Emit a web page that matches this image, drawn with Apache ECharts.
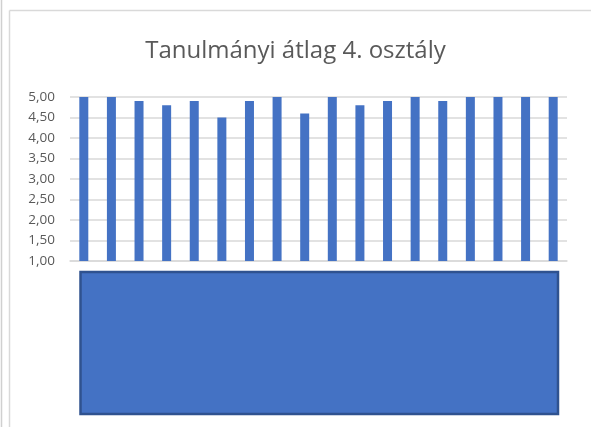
<!DOCTYPE html>
<html>
<head>
<meta charset="utf-8">
<script src="https://cdn.jsdelivr.net/npm/echarts@6/dist/echarts.min.js"></script>
<style>
  html, body { margin: 0; padding: 0; background: #fff; }
  #container_atlag { width: 591px; height: 427px; }
</style>
</head>
<body>
<div id="container_atlag"></div>
<script>
// adatok (a tanulók nevei a képen ki vannak takarva)
var categories = ['1','2','3','4','5','6','7','8','9','10','11','12','13','14','15','16','17','18'];
var atlagok = [5.0, 5.0, 4.9, 4.8, 4.9, 4.5, 4.9, 5.0, 4.6, 5.0, 4.8, 4.9, 5.0, 4.9, 5.0, 5.0, 5.0, 5.0];
var yTicks = [1, 5, 0.5]; // min, max, interval

var myChart = echarts.init(document.getElementById('container_atlag'));
var option = {
    animation: false,
    title: {
        text: 'Tanulmányi átlag 4. osztály',
        left: 'center',
        top: 34,
        textStyle: {
            color: '#595959',
            fontFamily: 'Open Sans',
            fontSize: 24,
            fontWeight: 'normal'
        }
    },
    grid: {
        left: 70,
        right: 24,
        top: 97,
        bottom: 166
    },
    xAxis: {
        type: 'category',
        data: categories,
        axisLabel: { show: false },
        axisTick: { show: false },
        axisLine: {
            show: true,
            lineStyle: { color: '#d9d9d9', width: 1.5 }
        }
    },
    yAxis: {
        type: 'value',
        min: yTicks[0],
        max: yTicks[1],
        interval: yTicks[2],
        axisLabel: {
            color: '#595959',
            fontFamily: 'Open Sans',
            fontSize: 13.5,
            margin: 15,
            formatter: function (v) { return v.toFixed(2).replace('.', ','); }
        },
        axisLine: { show: false },
        axisTick: { show: false },
        splitLine: {
            lineStyle: { color: '#d9d9d9', width: 1.5, type: 'solid' }
        }
    },
    series: [
        {
            name: 'Átlag',
            type: 'bar',
            data: atlagok,
            barWidth: 9,
            itemStyle: { color: '#4472C4' }
        }
    ],
    graphic: [
        // keret
        { type: 'line', shape: { x1: 9.5, y1: 10.5, x2: 591, y2: 10.5 }, style: { stroke: '#d9d9d9', lineWidth: 1.5 } },
        { type: 'line', shape: { x1: 9.5, y1: 10.5, x2: 9.5, y2: 427 }, style: { stroke: '#d9d9d9', lineWidth: 1.5 } },
        { type: 'line', shape: { x1: 1.5, y1: 0, x2: 1.5, y2: 427 }, style: { stroke: '#d0d0d0', lineWidth: 1.5 } },
        // a neveket takaró téglalap
        {
            type: 'rect',
            shape: { x: 80.5, y: 272, width: 477.5, height: 142 },
            style: { fill: '#4472C4', stroke: '#2F528F', lineWidth: 2.5 }
        }
    ]
};
myChart.setOption(option);
window.onresize = myChart.resize;
</script>
</body>
</html>
